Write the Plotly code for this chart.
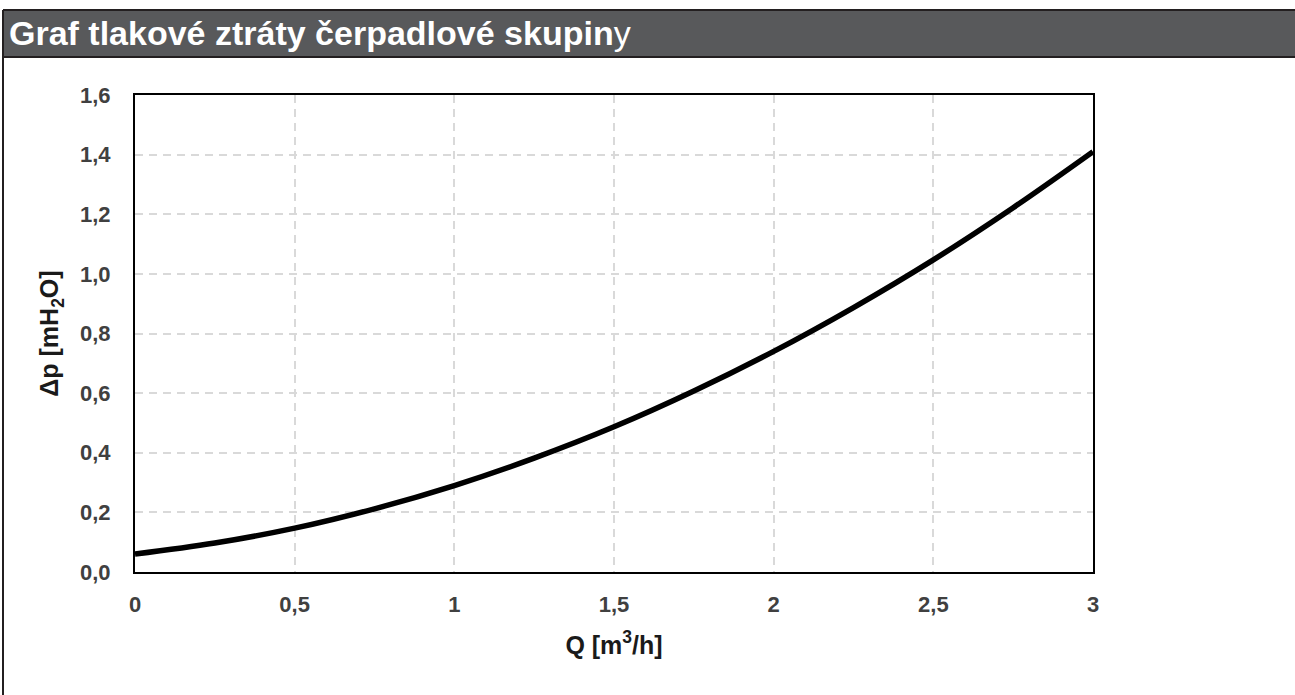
import plotly.graph_objects as go

# Data
q_values = [0, 0.25, 0.5, 0.75, 1.0, 1.25, 1.5, 1.75, 2.0, 2.25, 2.5, 2.75, 3.0]
dp_values = [0.06, 0.097, 0.147, 0.212, 0.29, 0.382, 0.487, 0.607, 0.74, 0.887, 1.047, 1.222, 1.41]
x_tickvals = [0, 0.5, 1, 1.5, 2, 2.5, 3]
x_ticktext = ["0", "0,5", "1", "1,5", "2", "2,5", "3"]
y_tickvals = [0, 0.2, 0.4, 0.6, 0.8, 1.0, 1.2, 1.4, 1.6]
y_ticktext = ["0,0", "0,2", "0,4", "0,6", "0,8", "1,0", "1,2", "1,4", "1,6"]
title_text = "<b>Graf tlakové ztráty čerpadlové skupin</b>y"
x_title = "<b>Q [m<sup>3</sup>/h]</b>"
y_title = "<b>Δp [mH<sub>2</sub>O]</b>"

W, H = 1295, 695
L, R, T, B = 135, 1093, 95, 572
pw, ph = R - L, B - T


def px(x):
    return (x - L) / pw


def py(y):
    return (B - y) / ph


FONT = "Liberation Sans, Arial, sans-serif"

fig = go.Figure()
fig.add_trace(go.Scatter(
    x=q_values, y=dp_values, mode="lines",
    line=dict(color="black", width=5.5, shape="spline"),
    showlegend=False, hoverinfo="skip", cliponaxis=True,
))

axis_common = dict(
    showline=True, linecolor="black", linewidth=2, mirror=True,
    showgrid=True, gridcolor="#d9d9d9", gridwidth=2, griddash="8px,6px",
    zeroline=False, ticks="",
    tickfont=dict(family=FONT, size=22, color="#404040", weight="bold"),
)

fig.update_xaxes(
    range=[0, 3], tickvals=x_tickvals, ticktext=x_ticktext,
    ticklabelstandoff=12,
    title=dict(text=x_title, font=dict(family=FONT, size=25, color="#1a1a1a"), standoff=20),
    **axis_common,
)
fig.update_yaxes(
    range=[0, 1.6], tickvals=y_tickvals, ticktext=y_ticktext,
    ticklabelstandoff=18,
    title=dict(text=y_title, font=dict(family=FONT, size=25, color="#1a1a1a"), standoff=14),
    **axis_common,
)

shapes = [
    # header bar
    dict(type="rect", xref="paper", yref="paper",
         x0=px(3), x1=px(W + 5), y0=py(57), y1=py(10),
         fillcolor="#58595b", line=dict(width=0), layer="above"),
    dict(type="line", xref="paper", yref="paper",
         x0=px(3), x1=px(W + 5), y0=py(10), y1=py(10),
         line=dict(color="#231f20", width=2)),
    dict(type="line", xref="paper", yref="paper",
         x0=px(3), x1=px(W + 5), y0=py(57), y1=py(57),
         line=dict(color="#231f20", width=2)),
    # left border
    dict(type="line", xref="paper", yref="paper",
         x0=px(3), x1=px(3), y0=py(10), y1=py(H + 5),
         line=dict(color="#231f20", width=2)),
]

fig.update_layout(
    width=W, height=H,
    margin=dict(l=L, r=W - R, t=T, b=H - B, autoexpand=False),
    plot_bgcolor="white", paper_bgcolor="white",
    font=dict(family=FONT),
    shapes=shapes,
    annotations=[dict(
        text=title_text, xref="paper", yref="paper",
        x=px(7), y=py(33), xanchor="left", yanchor="middle",
        showarrow=False, font=dict(family=FONT, size=34, color="white"),
    )],
)

fig.write_html(
    "out.html",
    config={"displayModeBar": False},
    post_script="document.body.style.margin='0';document.body.style.overflow='hidden';",
)
